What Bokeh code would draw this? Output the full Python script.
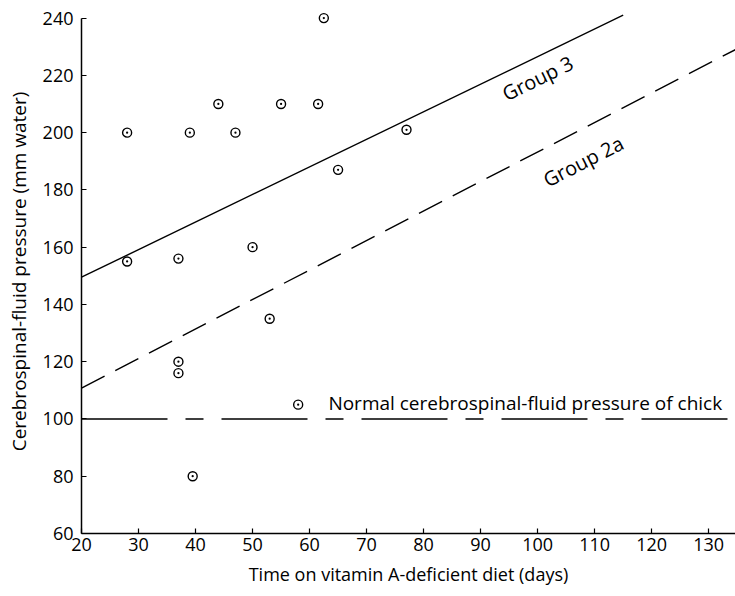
import numpy as np
from bokeh.plotting import figure
from bokeh.models import ColumnDataSource, FixedTicker
from bokeh.core.properties import value
from bokeh.embed import file_html
from bokeh.resources import INLINE

# data
days = [28, 28, 37, 37, 37, 39, 39.5, 44, 47, 50, 53, 55, 58, 61.5, 62.5, 65, 77]
pressure = [200, 155, 156, 120, 116, 200, 80, 210, 200, 160, 135, 210, 105, 210, 240, 187, 201]

group3_x = [20, 115]
group3_y = [149.5, 241]
group2a_x = [20, 134.7]
group2a_y = [110.8, 229]
normal_x = [20, 134.7]
normal_y = [100, 100]

x_ticks = [20, 30, 40, 50, 60, 70, 80, 90, 100, 110, 120, 130]
y_ticks = [60, 80, 100, 120, 140, 160, 180, 200, 220, 240]

FONT = "Open Sans"

p = figure(width=735, height=596, x_range=(20, 134.7), y_range=(60, 243),
           output_backend="svg", toolbar_location=None,
           min_border_left=81, min_border_right=0, min_border_top=9, min_border_bottom=63)
p.outline_line_color = None
p.grid.visible = False
p.background_fill_color = "white"

p.line(group3_x, group3_y, line_color="black", line_width=1.4)
p.line(group2a_x, group2a_y, line_color="black", line_width=1.4, line_dash="26 12")
p.line(normal_x, normal_y, line_color="black", line_width=1.4, line_dash="86 18 18 18")

src = ColumnDataSource(dict(x=days, y=pressure))
p.scatter("x", "y", source=src, marker="circle_dot", size=9, fill_color=None,
          line_color="black", line_width=1.4)

p.text(x=[100], y=[219], text=["Group 3"], angle=np.deg2rad(26),
       text_align="center", text_baseline="middle", text_font=value(FONT),
       text_font_size="20px", text_color="black")
p.text(x=[108], y=[190], text=["Group 2a"], angle=np.deg2rad(27),
       text_align="center", text_baseline="middle", text_font=value(FONT),
       text_font_size="20px", text_color="black")
p.text(x=[63.3], y=[105.5], text=["Normal cerebrospinal-fluid pressure of chick"],
       text_align="left", text_baseline="alphabetic", text_font=value(FONT),
       text_font_size="19px", text_color="black")

for ax in (p.xaxis[0], p.yaxis[0]):
    ax.axis_line_color = "black"
    ax.axis_line_width = 1.5
    ax.major_tick_in = 5
    ax.major_tick_out = 0
    ax.major_tick_line_color = "black"
    ax.major_tick_line_width = 1.2
    ax.minor_tick_line_color = None
    ax.major_label_text_font = FONT
    ax.major_label_text_font_size = "18px"
    ax.major_label_text_color = "black"
    ax.axis_label_text_font = FONT
    ax.axis_label_text_font_style = "normal"
    ax.axis_label_text_color = "black"

p.xaxis.axis_label_text_font_size = "18px"
p.yaxis.axis_label_text_font_size = "19px"
p.xaxis.ticker = FixedTicker(ticks=x_ticks)
p.yaxis.ticker = FixedTicker(ticks=y_ticks)
p.yaxis.bounds = (60, 240)
p.xaxis.axis_label = "Time on vitamin A-deficient diet (days)"
p.yaxis.axis_label = "Cerebrospinal-fluid pressure (mm water)"
p.xaxis.major_label_standoff = 4
p.yaxis.major_label_standoff = 8
p.xaxis.axis_label_standoff = 8
p.yaxis.axis_label_standoff = 8

open("out.html", "w").write(file_html(p, INLINE))
